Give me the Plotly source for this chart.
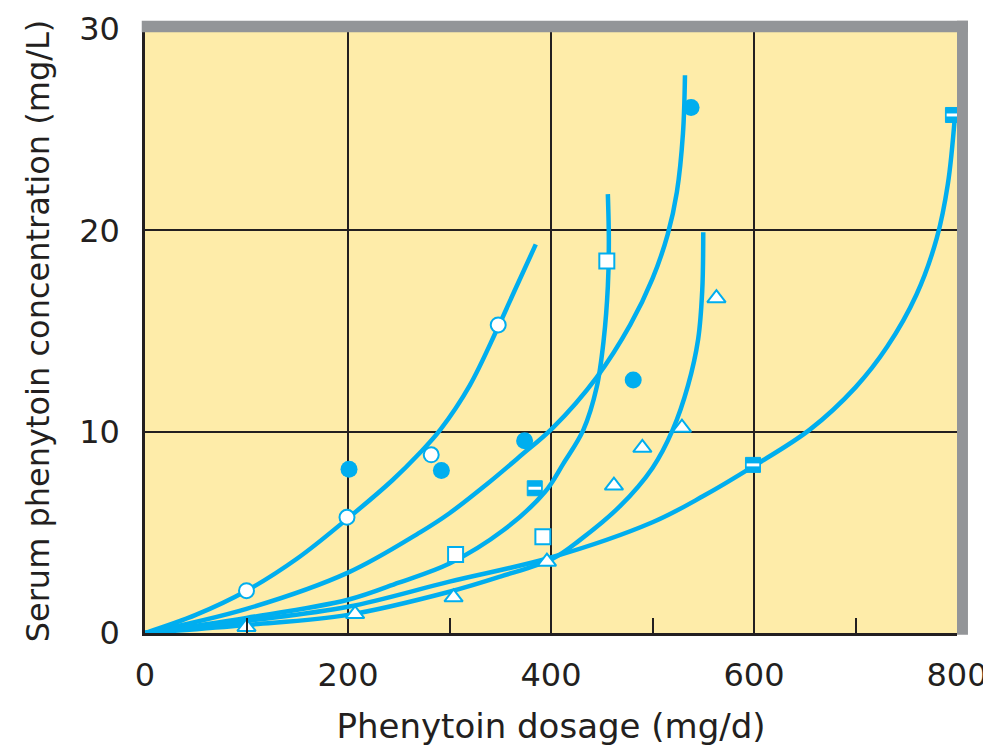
import plotly.graph_objects as go

# fitted dose-concentration curves (mg/d, mg/L)
curve_a_x = [0, 50, 100, 150, 200, 244, 270, 291, 320, 347, 365, 385]
curve_a_y = [0, 0.9, 2.1, 3.7, 5.7, 7.6, 8.9, 10.1, 12.3, 15.1, 17.1, 19.3]

curve_b_x = [0, 100, 200, 271, 300, 337, 370, 402, 445, 478, 500, 515, 524, 530, 532]
curve_b_y = [0, 1.2, 3.0, 5.0, 5.95, 7.4, 8.8, 10.2, 12.7, 15.3, 17.6, 19.8, 21.9, 24.8, 27.7]

curve_c_x = [0, 100, 200, 250, 300, 353, 394, 412, 432, 445, 452, 456, 457, 456]
curve_c_y = [0, 0.75, 1.65, 2.5, 3.45, 5.1, 7.0, 8.4, 10.1, 12.2, 14.6, 17.2, 19.5, 21.8]

curve_d_x = [0, 100, 200, 300, 350, 402, 428, 468, 500, 520, 535, 545, 549, 550]
curve_d_y = [0, 0.4, 0.9, 2.05, 2.8, 3.7, 4.6, 6.3, 8.2, 10.1, 12.3, 14.6, 17.0, 19.9]

curve_e_x = [0, 100, 200, 300, 400, 500, 550, 600, 655, 700, 731, 760, 780, 791, 798]
curve_e_y = [0, 0.6, 1.3, 2.55, 3.75, 5.5, 6.8, 8.3, 10.1, 12.2, 14.2, 16.8, 19.6, 22.3, 25.7]

# measured points
open_circle_x = [100, 199, 282, 348]
open_circle_y = [2.1, 5.75, 8.85, 15.3]

filled_circle_x = [201, 292, 374, 481, 538]
filled_circle_y = [8.13, 8.07, 9.55, 12.57, 26.1]

open_square_x = [306, 392, 455]
open_square_y = [3.9, 4.78, 18.48]

half_square_x = [384, 599, 796]
half_square_y = [7.19, 8.35, 25.73]

triangle_x = [100, 207, 304, 396, 462, 490, 529, 563]
triangle_y = [0.3, 0.94, 1.77, 3.54, 7.32, 9.2, 10.2, 16.63]

x_ticks = [0, 200, 400, 600, 800]
y_ticks = [0, 10, 20, 30]
x_minor = [100, 300, 500, 700]

BLUE = "#00aeef"
INK = "#231f20"
GRAY = "#939598"

fig = go.Figure()

for cx, cy in [(curve_a_x, curve_a_y), (curve_b_x, curve_b_y), (curve_c_x, curve_c_y),
               (curve_d_x, curve_d_y), (curve_e_x, curve_e_y)]:
    fig.add_trace(go.Scatter(x=cx, y=cy, mode="lines",
                             line=dict(color=BLUE, width=4.5, shape="spline", smoothing=1.0),
                             hoverinfo="skip"))

fig.add_trace(go.Scatter(x=open_circle_x, y=open_circle_y, mode="markers",
                         marker=dict(symbol="circle", size=15, color="white",
                                     line=dict(color=BLUE, width=2))))
fig.add_trace(go.Scatter(x=filled_circle_x, y=filled_circle_y, mode="markers",
                         marker=dict(symbol="circle", size=17, color=BLUE,
                                     line=dict(color=BLUE, width=0))))
fig.add_trace(go.Scatter(x=open_square_x, y=open_square_y, mode="markers",
                         marker=dict(symbol="square", size=15, color="white",
                                     line=dict(color=BLUE, width=2))))
fig.add_trace(go.Scatter(x=half_square_x, y=half_square_y, mode="markers",
                         marker=dict(symbol="square", size=15, color=BLUE,
                                     line=dict(color=BLUE, width=1))))
fig.add_trace(go.Scatter(x=half_square_x, y=half_square_y, mode="markers",
                         marker=dict(symbol="line-ew", size=9,
                                     line=dict(color="white", width=3))))
fig.add_trace(go.Scatter(x=triangle_x, y=triangle_y, mode="markers",
                         marker=dict(symbol="triangle-up", size=16, color="white",
                                     line=dict(color=BLUE, width=2))))

# grey frame along the top and right edges
fig.add_shape(type="rect", xref="paper", yref="paper", x0=-0.004, x1=1.0135,
              y0=0.9945, y1=1.0137, fillcolor=GRAY, line_width=0, layer="above")
fig.add_shape(type="rect", xref="paper", yref="paper", x0=1.0, x1=1.0135,
              y0=-0.003, y1=1.0137, fillcolor=GRAY, line_width=0, layer="above")

font = dict(family="DejaVu Sans, sans-serif", color=INK)

# page body adds an 8px offset, so the figure is a little smaller than the window
fig.update_layout(
    width=983, height=741,
    margin=dict(l=137, r=34, t=21, b=116),
    paper_bgcolor="white",
    plot_bgcolor="#feeca9",
    showlegend=False,
    font=font,
    xaxis=dict(range=[0, 800], tickvals=x_ticks, showgrid=True, gridcolor=INK, gridwidth=2,
               showline=True, linecolor=INK, linewidth=2.5, zeroline=False, automargin=False,
               ticks="", ticklabelstandoff=12, tickfont=dict(size=32),
               minor=dict(tickvals=x_minor, ticks="inside", ticklen=15, tickwidth=2,
                          tickcolor=INK, showgrid=False),
               title=dict(text="Phenytoin dosage (mg/d)", font=dict(size=34), standoff=22)),
    yaxis=dict(range=[0, 30], tickvals=y_ticks, showgrid=True, gridcolor=INK, gridwidth=2,
               showline=True, linecolor=INK, linewidth=2.5, zeroline=False, automargin=False,
               ticks="", ticklabelstandoff=16, tickfont=dict(size=32),
               title=dict(text="Serum phenytoin concentration (mg/L)", font=dict(size=32),
                          standoff=20)),
)

fig.write_html("out.html")
